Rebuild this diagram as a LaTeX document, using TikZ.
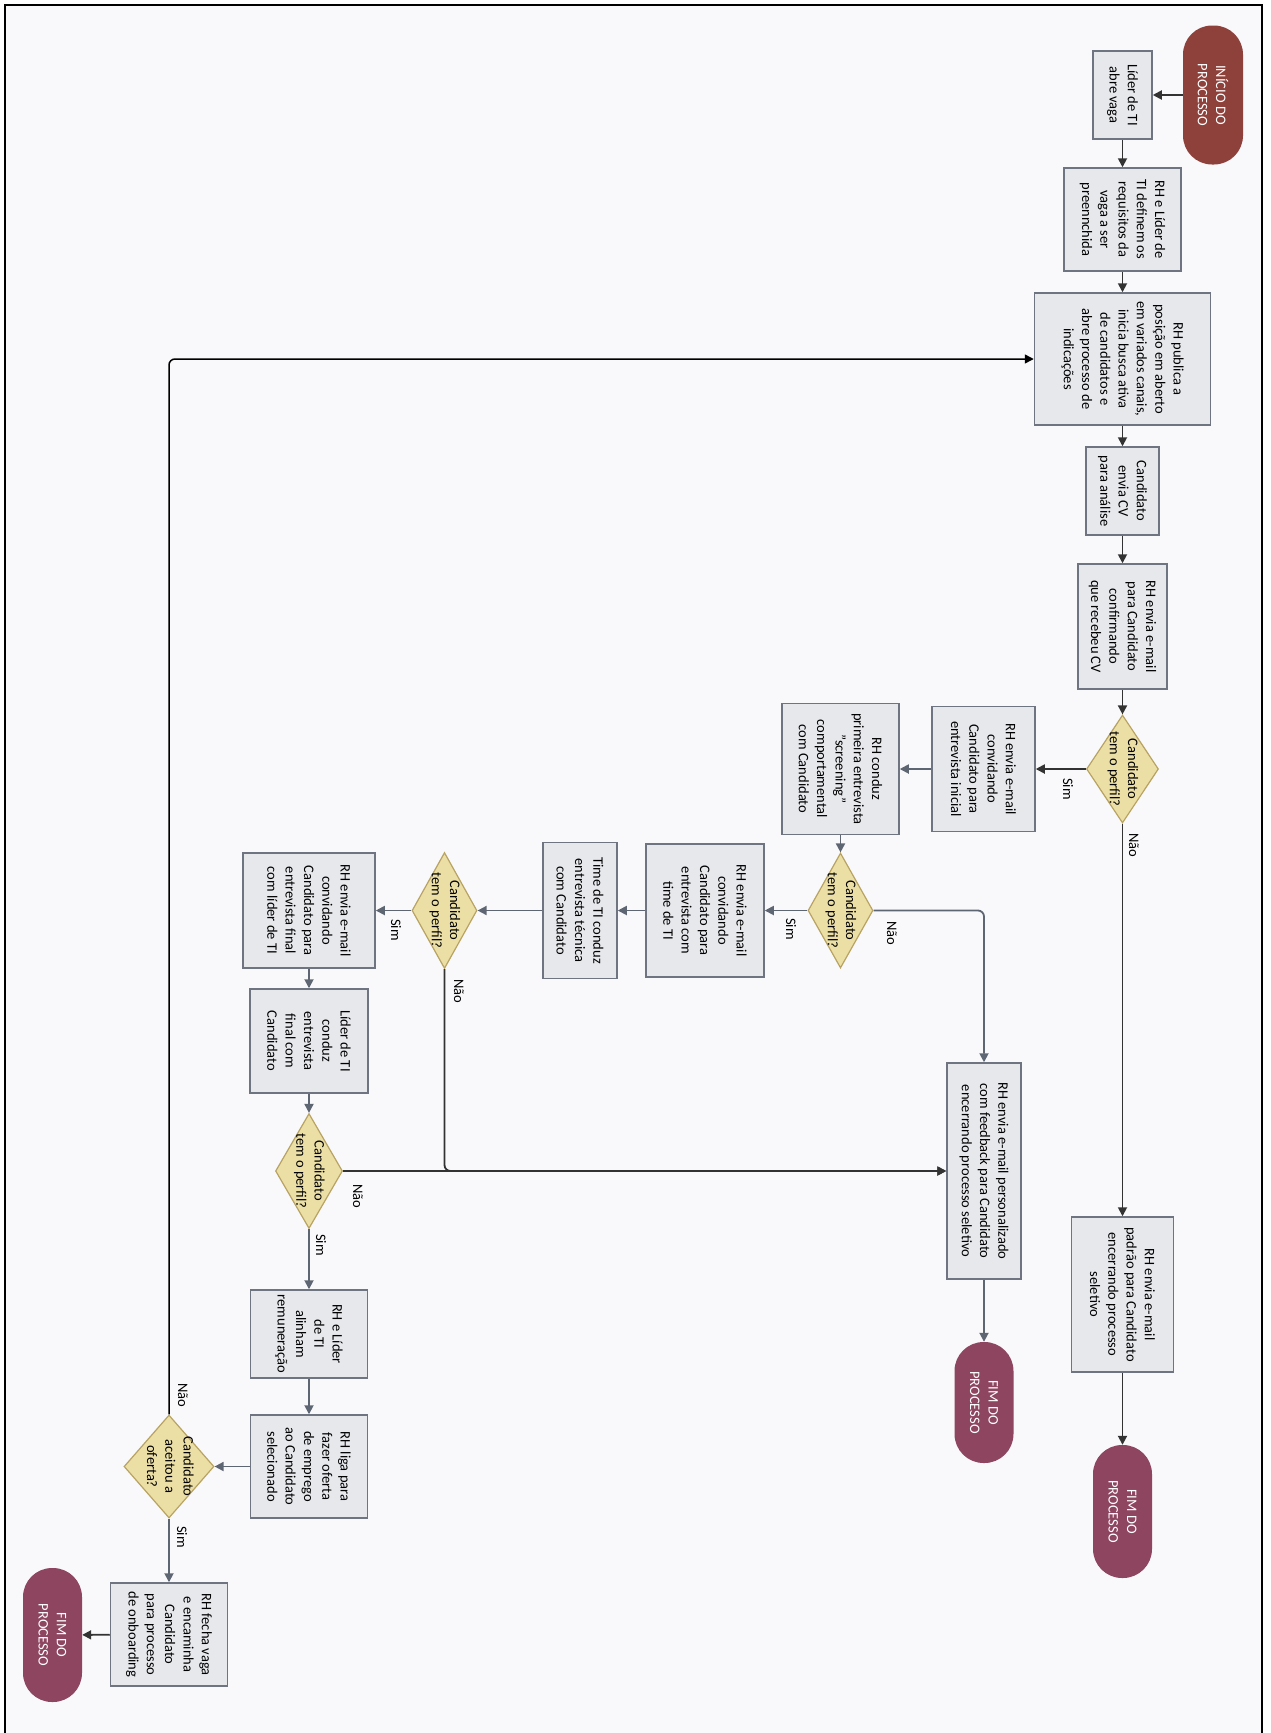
\documentclass[tikz,border=0pt]{standalone}
\usepackage{fontspec}
\setmainfont{Carlito}
\usetikzlibrary{arrows.meta,shapes.geometric}
\definecolor{bgc}{HTML}{F9F9FB}
\definecolor{boxfill}{HTML}{E6E8EC}
\definecolor{boxdraw}{HTML}{6F7580}
\definecolor{decfill}{HTML}{EBDFA6}
\definecolor{decdraw}{HTML}{B8A362}
\definecolor{startc}{HTML}{8E403B}
\definecolor{endc}{HTML}{8D4560}
\definecolor{darkln}{HTML}{333333}
\definecolor{grayln}{HTML}{5F6673}
\newcommand\dmtext[1]{\makebox[0pt]{\smash{\raisebox{-3.5pt}{\begin{tabular}{@{}c@{}}#1\end{tabular}}}}}
\begin{document}
\begin{tikzpicture}[x=1pt,y=-1pt,
  every node/.style={font=\fontsize{14.5}{18.3}\selectfont, text=black, rotate=-90},
  sz/.style 2 args={minimum width=#2pt, minimum height=#1pt},
  proc/.style={rectangle, draw=boxdraw, fill=boxfill, line width=1.5pt, inner sep=0pt, align=center},
  dec/.style={diamond, draw=decdraw, fill=decfill, line width=1.2pt, inner sep=0pt, aspect=1},
  term/.style={rectangle, rounded corners=29pt, fill=#1, inner sep=0pt, align=center, text=white},
  lk/.style={-{Triangle[length=9pt,width=9pt]}, line width=1.8pt, draw=#1, rounded corners=6pt},
  lbl/.style={inner sep=0pt}
]
\useasboundingbox (0,0) rectangle (1270,1733);
\fill[white] (0,0) rectangle (1270,1733);
\draw[line width=2pt, fill=bgc] (5,5) rectangle (1262,1740);

% column A
\node[term=startc, sz={60}{139}] (start) at (1213,95) {INÍCIO DO\\PROCESSO};
\node[proc, sz={59}{88}] (b1) at (1122.5,95) {Líder de TI\\abre vaga};
\node[proc, sz={117}{103}] (b2) at (1122.5,219.5) {RH e Líder de\\TI definem os\\requisitos da\\vaga a ser\\preennchida};
\node[proc, sz={176}{132}] (b3) at (1122.5,359) {RH publica a\\posição em aberto\\em variados canais,\\inicia busca ativa\\de candidatos e\\abre processo de\\indicações};
\node[proc, sz={73}{88}] (b4) at (1122.5,491) {Candidato\\envia CV\\para análise};
\node[proc, sz={89}{125}] (b5) at (1122.5,626.5) {RH envia e-mail\\para Candidato\\confirmando\\que recebeu CV};
\node[dec, sz={72}{108}] (d1) at (1122.5,769) {\dmtext{Candidato\\tem o perfil?}};
\node[proc, sz={102}{155}] (b16) at (1122.5,1294.5) {RH envia e-mail\\padrão para Candidato\\encerrando processo\\seletivo};
\node[term=endc, sz={59}{133}] (end3) at (1122.5,1511.5) {FIM DO\\PROCESSO};

% second row
\node[proc, sz={103}{125}] (b6) at (983.5,769) {RH envia e-mail\\convidando\\Candidato para\\entrevista inicial};
\node[proc, sz={117}{131}] (b7) at (840.5,769) {RH conduz\\primeira entrevista\\"screening"\\comportamental\\com Candidato};
\node[dec, sz={65}{115}] (d2) at (840.5,910.5) {\dmtext{Candidato\\tem o perfil?}};
\node[proc, sz={118}{133}] (b8) at (705,910.5) {RH envia e-mail\\convidando\\Candidato para\\entrevista com\\time de TI};
\node[proc, sz={74}{136}] (b9) at (580,910.5) {Time de TI conduz\\entrevista técnica\\com Candidato};
\node[dec, sz={65}{116}] (d3) at (444.5,910.5) {\dmtext{Candidato\\tem o perfil?}};
\node[proc, sz={132}{115}] (b10) at (309,910.5) {RH envia e-mail\\convidando\\Candidato para\\entrevista final\\com líder de TI};
\node[proc, sz={118}{104}] (b11) at (309,1041) {Líder de TI\\conduz\\entrevista\\final com\\Candidato};
\node[dec, sz={67}{115}] (d4) at (309,1171) {\dmtext{Candidato\\tem o perfil?}};
\node[proc, sz={117}{88}] (b12) at (309,1334) {RH e Líder\\de TI\\alinham\\remuneração};
\node[proc, sz={117}{103}] (b13) at (309,1466.5) {RH liga para\\fazer oferta\\de emprego\\ao Candidato\\selecionado};
\node[dec, sz={90}{103}] (d5) at (169,1466.5) {\dmtext{Candidato\\aceitou a\\oferta?}};
\node[proc, sz={117}{103}] (b14) at (169,1634.5) {RH fecha vaga\\e encaminha\\Candidato\\para processo\\de onboarding};
\node[term=endc, sz={59}{134}] (end1) at (52.5,1635) {FIM DO\\PROCESSO};

\node[proc, sz={74}{216}] (b15) at (984,1171) {RH envia e-mail personalizado\\com feedback para Candidato\\encerrando processo seletivo};
\node[term=endc, sz={59}{121}] (end2) at (984,1402.5) {FIM DO\\PROCESSO};

% labels
\node[lbl] (s1) at (1068,789) {Sim};
\node[lbl] (n1) at (1134,845) {Não};
\node[lbl] (s2) at (791,929) {Sim};
\node[lbl] (n2) at (892,933) {Não};
\node[lbl] (s3) at (396,930) {Sim};
\node[lbl] (n3) at (459,991) {Não};
\node[lbl] (n4) at (358,1196) {Não};
\node[lbl] (s4) at (321,1245) {Sim};
\node[lbl] (n5) at (183,1395) {Não};
\node[lbl] (s5) at (182,1537) {Sim};

% connectors
\draw[lk=darkln] (start) -- (b1);
\draw[lk=darkln] (b1) -- (b2);
\draw[lk=darkln] (b2) -- (b3);
\draw[lk=darkln] (b3) -- (b4);
\draw[lk=darkln] (b4) -- (b5);
\draw[lk=darkln] (b5) -- (d1);
\draw[lk=darkln] (d1) -- (b6);
\draw[lk=darkln] (d1) -- (b16);
\draw[lk=darkln] (b16) -- (end3);
\draw[lk=grayln] (b6) -- (b7);
\draw[lk=grayln] (b7) -- (d2);
\draw[lk=grayln] (d2) -- (b8);
\draw[lk=grayln] (d2) -| (b15);
\draw[lk=grayln] (b8) -- (b9);
\draw[lk=grayln] (b9) -- (d3);
\draw[lk=grayln] (d3) -- (b10);
\draw[lk=darkln] (d3) |- (b15);
\draw[lk=grayln] (b10) -- (b11);
\draw[lk=grayln] (b11) -- (d4);
\draw[lk=darkln] (d4) -- (b15);
\draw[lk=grayln] (d4) -- (b12);
\draw[lk=grayln] (b12) -- (b13);
\draw[lk=grayln] (b13) -- (d5);
\draw[lk=darkln, draw=black, line width=1.5pt] (d5) |- (b3);
\draw[lk=grayln] (d5) -- (b14);
\draw[lk=darkln] (b14) -- (end1);
\draw[lk=grayln] (b15) -- (end2);
\end{tikzpicture}
\end{document}
